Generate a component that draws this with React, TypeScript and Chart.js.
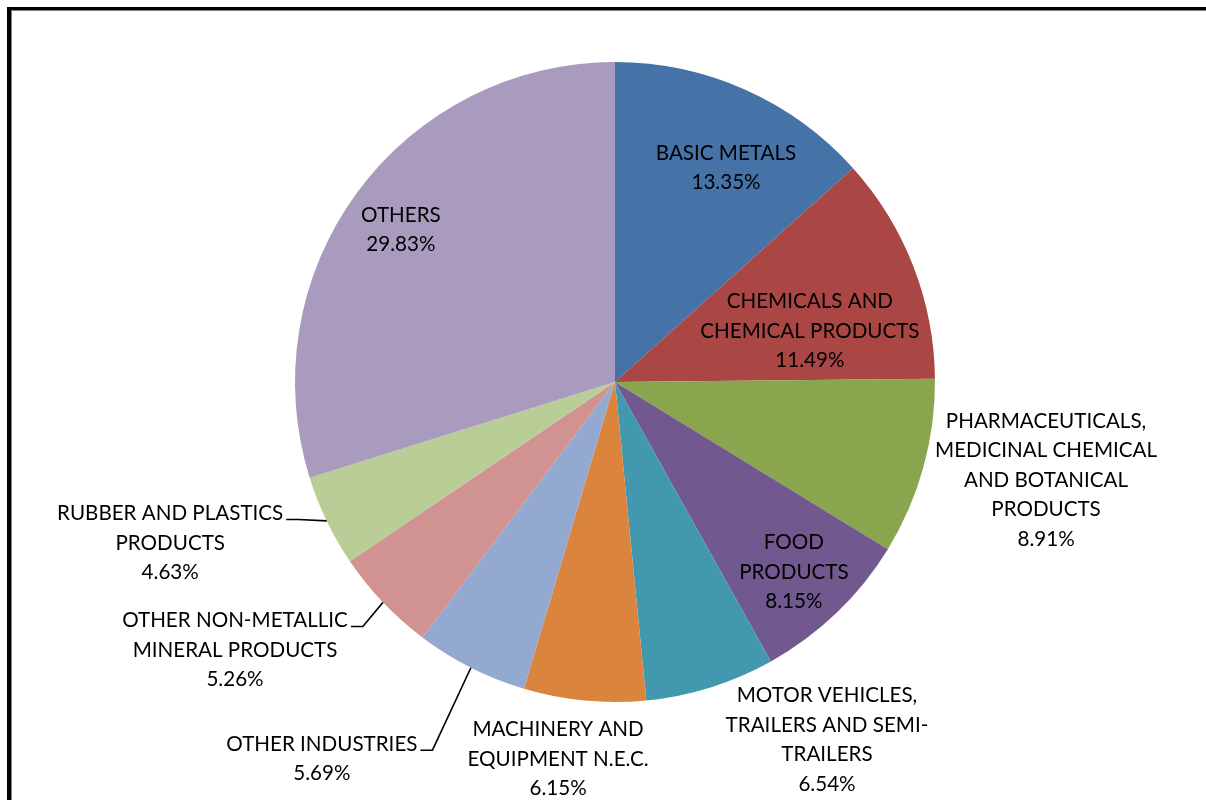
import React, { useEffect, useRef } from "react";
import { Chart, registerables } from "chart.js";

Chart.register(...registerables);

const categories: string[][] = [
  ["BASIC METALS"],
  ["CHEMICALS AND", "CHEMICAL PRODUCTS"],
  ["PHARMACEUTICALS,", "MEDICINAL CHEMICAL", "AND BOTANICAL", "PRODUCTS"],
  ["FOOD", "PRODUCTS"],
  ["MOTOR VEHICLES,", "TRAILERS AND SEMI-", "TRAILERS"],
  ["MACHINERY AND", "EQUIPMENT N.E.C."],
  ["OTHER INDUSTRIES"],
  ["OTHER NON-METALLIC", "MINERAL PRODUCTS"],
  ["RUBBER AND PLASTICS", "PRODUCTS"],
  ["OTHERS"],
];

const shares: number[] = [13.35, 11.49, 8.91, 8.15, 6.54, 6.15, 5.69, 5.26, 4.63, 29.83];

const colors: string[] = [
  "#4572A7",
  "#AA4643",
  "#89A54E",
  "#71588F",
  "#4198AF",
  "#DB843D",
  "#93A9CF",
  "#D19392",
  "#B9CD96",
  "#A99BBD",
];

// label block centre, relative to pie centre, in units of the pie radius
const labelOffsets: [number, number][] = [
  [0.347, -0.669],
  [0.609, -0.159],
  [1.347, 0.306],
  [0.559, 0.594],
  [0.6625, 1.119],
  [-0.178, 1.178],
  [-0.916, 1.178],
  [-1.1875, 0.8375],
  [-1.39, 0.503],
  [-0.669, -0.475],
];

const hasLeader: boolean[] = [false, false, false, false, false, false, true, true, true, false];

const FONT = "20.6px Lato, 'Open Sans', sans-serif";
const LINE_H = 29.5;

const labelPlugin = {
  id: "sliceLabels",
  afterDatasetsDraw(chart: any) {
    const ctx = chart.ctx as CanvasRenderingContext2D;
    const meta = chart.getDatasetMeta(0);
    ctx.save();
    ctx.font = FONT;
    ctx.fillStyle = "#000";
    ctx.textAlign = "center";
    ctx.textBaseline = "middle";
    meta.data.forEach((arc: any, i: number) => {
      const cx = arc.x;
      const cy = arc.y;
      const R = arc.outerRadius;
      const lines = [...categories[i], shares[i].toFixed(2) + "%"];
      const bx = cx + labelOffsets[i][0] * R;
      const by = cy + labelOffsets[i][1] * R;
      const top = by - ((lines.length - 1) * LINE_H) / 2;
      lines.forEach((t, k) => ctx.fillText(t, bx, top + k * LINE_H));
      if (hasLeader[i]) {
        const w = ctx.measureText(lines[0]).width;
        const sx = bx + w / 2 + 3;
        const sy = top + 6;
        const mid = (arc.startAngle + arc.endAngle) / 2;
        const ex = cx + Math.cos(mid) * R;
        const ey = cy + Math.sin(mid) * R;
        ctx.beginPath();
        ctx.strokeStyle = "#000";
        ctx.lineWidth = 1.6;
        ctx.moveTo(sx, sy);
        ctx.lineTo(Math.min(sx + 12, ex), sy);
        ctx.lineTo(ex, ey);
        ctx.stroke();
      }
    });
    ctx.restore();
  },
};

const framePlugin = {
  id: "frame",
  beforeDraw(chart: any) {
    const ctx = chart.ctx as CanvasRenderingContext2D;
    ctx.save();
    ctx.fillStyle = "#fff";
    ctx.fillRect(0, 0, chart.width, chart.height);
    ctx.fillStyle = "#000";
    ctx.fillRect(7, 7, chart.width, 3);
    ctx.fillRect(7, 7, 4, chart.height);
    ctx.fillStyle = "#808080";
    ctx.fillRect(11, 10, chart.width, 1);
    ctx.fillRect(11, 10, 1, chart.height);
    ctx.restore();
  },
};

export default function App() {
  const ref = useRef<HTMLCanvasElement | null>(null);
  useEffect(() => {
    if (!ref.current) return;
    const chart = new Chart(ref.current, {
      type: "pie",
      data: {
        labels: categories.map((c) => c.join(" ")),
        datasets: [
          {
            data: shares,
            backgroundColor: colors,
            borderWidth: 0,
          },
        ],
      },
      options: {
        responsive: false,
        animation: false,
        layout: { padding: { left: 295, right: 271, top: 62, bottom: 98 } },
        plugins: {
          legend: { display: false },
          tooltip: { enabled: false },
        },
      },
      plugins: [framePlugin, labelPlugin],
    });
    return () => chart.destroy();
  }, []);
  return (
    <div style={{ position: "fixed", left: 0, top: 0, width: 1206, height: 800, background: "#fff" }}>
      <canvas ref={ref} width={1206} height={800} style={{ display: "block" }} />
    </div>
  );
}
